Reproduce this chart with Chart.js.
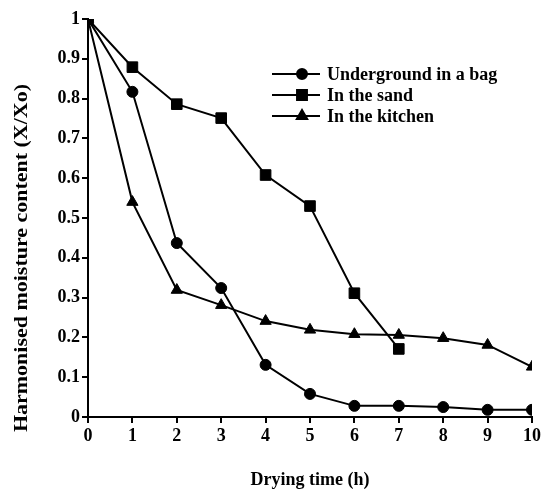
<!DOCTYPE html>
<html>
<head>
<meta charset="utf-8">
<script src="https://cdn.jsdelivr.net/npm/chart.js@4"></script>
<style>
  html, body { margin: 0; padding: 0; background: #fff; }
  #wrap { width: 547px; height: 491px; }
</style>
</head>
<body>
<div id="wrap"><canvas id="chart" width="547" height="491"></canvas></div>
<script>
// drying time (h)
const hours = [0, 1, 2, 3, 4, 5, 6, 7, 8, 9, 10];
const underground = [1, 0.817, 0.437, 0.324, 0.131, 0.058, 0.028, 0.028, 0.025, 0.018, 0.018];
const sand = [1, 0.879, 0.786, 0.751, 0.608, 0.530, 0.311, 0.171];
const kitchen = [1, 0.540, 0.319, 0.281, 0.241, 0.219, 0.208, 0.206, 0.198, 0.181, 0.126];
const seriesNames = ['Underground in a bag', 'In the sand', 'In the kitchen'];
const yTitle = 'Harmonised moisture content (X/Xo)';

const FONT = '"Liberation Serif", "Times New Roman", serif';

function toPoints(values) {
    return values.map((v, i) => ({ x: hours[i], y: v }));
}

function makeSet(label, values, style, radius) {
    return {
        label: label,
        data: toPoints(values),
        borderColor: '#000',
        backgroundColor: '#000',
        borderWidth: 2,
        pointStyle: style,
        pointRadius: radius,
        pointBorderWidth: 1,
        tension: 0
    };
}

// legend drawn inside the plot: line with marker in the middle
const innerLegend = {
    id: 'innerLegend',
    afterDraw(chart) {
        const ctx = chart.ctx;
        const x0 = 272, x1 = 320, mx = 302, tx = 327;
        const rows = [74, 95, 116];
        ctx.save();
        chart.data.datasets.forEach((ds, i) => {
            const y = rows[i];
            ctx.strokeStyle = '#000';
            ctx.lineWidth = 2;
            ctx.beginPath();
            ctx.moveTo(x0, y);
            ctx.lineTo(x1, y);
            ctx.stroke();
            Chart.helpers.drawPoint(ctx, {
                pointStyle: ds.pointStyle,
                radius: ds.pointRadius - 0.5,
                borderWidth: 1
            }, mx, y);
            ctx.fillStyle = '#000';
            ctx.font = 'bold 18px ' + FONT;
            ctx.textBaseline = 'middle';
            ctx.fillText(ds.label, tx, y + 1);
        });
        ctx.restore();
    }
};

// y axis title, stretched along its length like the original figure
const yTitlePlugin = {
    id: 'yTitlePlugin',
    afterDraw(chart) {
        const ctx = chart.ctx;
        ctx.save();
        ctx.translate(22, 258);
        ctx.rotate(-Math.PI / 2);
        ctx.font = 'bold 18px ' + FONT;
        const w = ctx.measureText(yTitle).width;
        ctx.scale(348 / w, 1);
        ctx.fillStyle = '#000';
        ctx.textAlign = 'center';
        ctx.textBaseline = 'middle';
        ctx.fillText(yTitle, 0, 0);
        ctx.restore();
    }
};

new Chart(document.getElementById('chart'), {
    type: 'line',
    data: {
        datasets: [
            makeSet(seriesNames[0], underground, 'circle', 5.5),
            makeSet(seriesNames[1], sand, 'rect', 7.5),
            makeSet(seriesNames[2], kitchen, 'triangle', 6.5)
        ]
    },
    options: {
        responsive: false,
        animation: false,
        layout: { padding: { top: 19, right: 15, bottom: 0, left: 0 } },
        plugins: {
            legend: { display: false },
            tooltip: { enabled: false }
        },
        scales: {
            x: {
                type: 'linear',
                min: 0,
                max: 10,
                ticks: {
                    stepSize: 1,
                    color: '#000',
                    padding: 3,
                    font: { family: FONT, size: 18, weight: 'bold' }
                },
                grid: {
                    display: true,
                    drawOnChartArea: false,
                    color: '#000',
                    lineWidth: 2,
                    tickLength: 6
                },
                border: { color: '#000', width: 2 },
                title: {
                    display: true,
                    text: 'Drying time (h)',
                    color: '#000',
                    font: { family: FONT, size: 18, weight: 'bold' },
                    padding: { top: 12, bottom: 0 }
                },
                afterFit(scale) { scale.height = 74; }
            },
            y: {
                min: 0,
                max: 1,
                ticks: {
                    stepSize: 0.1,
                    color: '#000',
                    padding: 2,
                    font: { family: FONT, size: 18, weight: 'bold' },
                    callback: v => String(Math.round(v * 10) / 10)
                },
                grid: {
                    display: true,
                    drawOnChartArea: false,
                    color: '#000',
                    lineWidth: 2,
                    tickLength: 6
                },
                border: { color: '#000', width: 2 },
                title: { display: false },
                afterFit(scale) { scale.width = 88; }
            }
        }
    },
    plugins: [innerLegend, yTitlePlugin]
});
</script>
</body>
</html>
